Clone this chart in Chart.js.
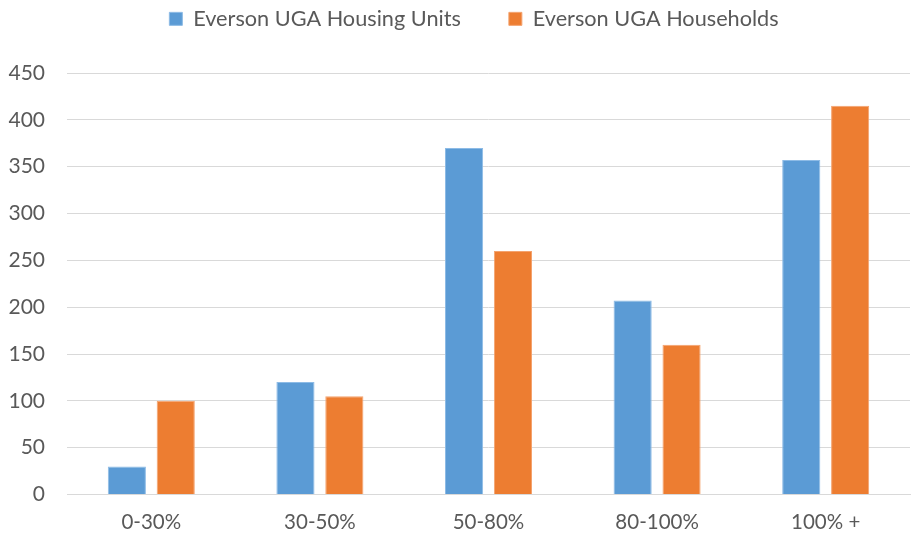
<!DOCTYPE html>
<html>
<head>
<meta charset="utf-8">
<script src="https://cdn.jsdelivr.net/npm/chart.js@4/dist/chart.umd.min.js"></script>
<style>
  html, body { margin: 0; padding: 0; background: #ffffff; }
  #wrap { width: 912px; height: 538px; position: relative; }
</style>
</head>
<body>
<div id="wrap"><canvas id="chart"></canvas></div>
<script>
// Income bands (share of area median income)
const categories = ['0-30%', '30-50%', '50-80%', '80-100%', '100% +'];

// Series values per income band
const housingUnits = [30, 120, 370, 207, 357];
const households   = [100, 105, 260, 160, 415];

const seriesNames = ['Everson UGA Housing Units', 'Everson UGA Households'];

// Y axis range
const yMax = 450;
const yStep = 50;

const FONT = 'Lato, "Open Sans", sans-serif';
const TEXT = '#595959';
const GRID = '#d9d9d9';

// Give the legend a fixed height so the plot starts lower down,
// and nudge the legend row to the right of the default centring
const legendHeight = {
  id: 'legendHeight',
  beforeInit(chart) {
    const fit = chart.legend.fit;
    chart.legend.fit = function () {
      fit.call(this);
      this.height = 113;
      if (this.lineWidths && this.lineWidths.length) {
        this.lineWidths[0] -= 38;
      }
    };
  }
};

new Chart(document.getElementById('chart'), {
  type: 'bar',
  data: {
    labels: categories,
    datasets: [
      {
        label: seriesNames[0],
        data: housingUnits,
        backgroundColor: '#5b9bd5',
        borderColor: '#8dbbe6',
        borderWidth: 1,
        categoryPercentage: 0.58,
        barPercentage: 0.78
      },
      {
        label: seriesNames[1],
        data: households,
        backgroundColor: '#ed7d31',
        borderColor: '#f4a36f',
        borderWidth: 1,
        categoryPercentage: 0.58,
        barPercentage: 0.78
      }
    ]
  },
  plugins: [legendHeight],
  options: {
    responsive: true,
    maintainAspectRatio: false,
    animation: false,
    layout: { padding: { top: -40, right: 2, bottom: 3.5, left: 0 } },
    plugins: {
      tooltip: { enabled: false },
      legend: {
        position: 'top',
        labels: {
          boxWidth: 13,
          boxHeight: 13,
          padding: 48,
          color: TEXT,
          font: { family: FONT, size: 21.7 }
        }
      }
    },
    scales: {
      x: {
        afterFit(axis) { axis.height = 40; },
        grid: { display: false, drawTicks: false },
        border: { display: true, color: GRID, width: 1 },
        ticks: {
          color: TEXT,
          padding: 16,
          font: { family: FONT, size: 20.5 }
        }
      },
      y: {
        min: 0,
        max: yMax,
        afterFit(axis) { axis.width = 67; },
        grid: { color: GRID, lineWidth: 1, drawTicks: false },
        border: { display: false },
        ticks: {
          stepSize: yStep,
          color: TEXT,
          padding: 22,
          font: { family: FONT, size: 21 }
        }
      }
    }
  }
});
</script>
</body>
</html>
